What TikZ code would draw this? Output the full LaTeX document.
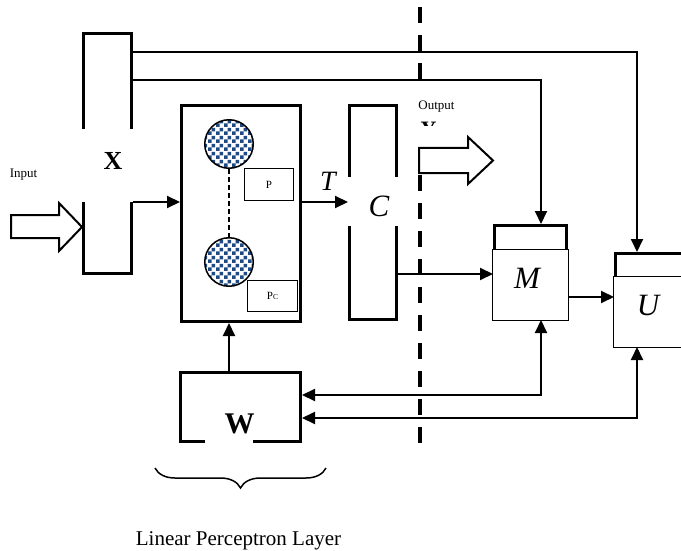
\documentclass[tikz,border=0pt]{standalone}
\usepackage{fontspec}
\setmainfont{Liberation Serif}
\usetikzlibrary{positioning, arrows.meta, calc, decorations.pathreplacing, patterns.meta}
\definecolor{cNavy}{HTML}{1F4A85}
\tikzdeclarepattern{
  name=navycheck,
  type=uncolored,
  bottom left={(0pt,0pt)},
  top right={(8pt,8pt)},
  tile size={(8pt,8pt)},
  code={
    \fill (0pt,0pt) rectangle (4pt,4pt);
    \fill (4pt,4pt) rectangle (8pt,8pt);
  }
}
\tikzset{
  blockbox/.style={
    draw, line width=3pt, inner sep=0pt
  },
  labelpatch/.style={
    fill=white, inner sep=0pt
  },
  thinbox/.style={
    draw, line width=1.2pt, fill=white, inner sep=0pt
  },
  neuron/.style={
    circle, draw, line width=1.5pt, pattern=navycheck, pattern color=cNavy,
    minimum size=48.5pt, inner sep=0pt
  },
  conn/.style={
    line width=2pt, -{Triangle[length=13pt, width=12pt]}
  },
  biconn/.style={
    line width=2pt, {Triangle[length=13pt, width=12pt]}-{Triangle[length=13pt, width=12pt]}
  },
  hollowarrow/.style={
    draw, line width=2pt, fill=white, line join=miter
  },
  divider/.style={
    line width=4pt, dash pattern=on 16pt off 12pt
  },
  smalltext/.style={
    font=\fontsize{13}{15}\selectfont, inner sep=0pt
  },
  boldlabel/.style={
    font=\fontsize{#1}{#1}\selectfont\bfseries, inner sep=0pt
  },
  italabel/.style={
    font=\fontsize{#1}{#1}\selectfont\itshape, inner sep=0pt
  },
  bracestyle/.style={
    line width=1.5pt, decorate, decoration={brace, mirror, amplitude=20pt}
  },
}
\begin{document}
\begin{tikzpicture}[x=1pt, y=-1pt]
\useasboundingbox (0,0) rectangle (681,551);

% ---- Rows and columns ----
\coordinate (rowA) at (0,52);
\coordinate (rowB) at (0,80);
\coordinate (rowT) at (0,202);
\coordinate (rowCM) at (0,274);
\coordinate (rowMU) at (0,297);
\coordinate (rowW1) at (0,395);
\coordinate (rowW2) at (0,418);
\coordinate (colP) at (229,0);
\coordinate (colM) at (541,0);
\coordinate (colU) at (637,0);

% ---- Divider ----
\coordinate (divtop) at (420,7);
\coordinate (divbot) at (420,443);
\draw[divider] (divtop) -- (divbot);

% ---- Blocks ----
\node[blockbox, minimum width=48pt, minimum height=240pt] (xbox) at (107.5,153.5) {};
\node[blockbox, minimum width=119pt, minimum height=216pt] (pbox) at (241,213.5) {};
\node[blockbox, minimum width=47pt, minimum height=214pt] (cbox) at (373,212.5) {};
\node[blockbox, minimum width=72pt, minimum height=93pt] (mbox) at (530.5,272) {};
\node[blockbox, minimum width=67pt, minimum height=92pt] (ubox) at (649,299.5) {};
\node[blockbox, minimum width=120pt, minimum height=69pt] (wbox) at (240.5,407) {};

% label patches
\node[labelpatch, minimum width=58pt, minimum height=73pt] (xpatch) at (109,165.5) {};
\node[labelpatch, minimum width=56pt, minimum height=49pt] (cpatch) at (375,201.5) {};
\node[thinbox, minimum width=76pt, minimum height=71pt] (mpatch) at (530.5,285.25) {};
\node[thinbox, minimum width=72pt, minimum height=71pt] (upatch) at (649.75,312.25) {};
\node[labelpatch, minimum width=48pt, minimum height=14pt] (wpatch) at (229,438) {};

% block labels
\node[boldlabel=26, anchor=base] (xlab) at (113,169) {X};
\node[italabel=31, anchor=base] (clab) at (379,216) {C};
\node[italabel=31, anchor=base] (mlab) at (527,288) {M};
\node[italabel=31, anchor=base] (ulab) at (648,315) {U};
\node[boldlabel=30, anchor=base] (wlab) at (239.5,433) {W};

% ---- Perceptron inside ----
\node[neuron] (n1) at (229,144) {};
\node[neuron] (n2) at (229,262) {};
\draw[line width=2pt, dash pattern=on 5pt off 3pt] (n1) -- (n2);
\node[thinbox, minimum width=49pt, minimum height=32pt,
      font=\fontsize{11}{12}\selectfont] (pstate) at (269,184.5) {P};
\node[thinbox, minimum width=50pt, minimum height=31pt,
      font=\fontsize{11}{12}\selectfont] (pcstate) at (272.5,296)
  {P{\fontsize{7.5}{8}\selectfont C}};

% ---- Output ----
\node[labelpatch, anchor=north west, minimum width=56pt, minimum height=63pt]
  (outpatch) at (414,84) {};
\node[smalltext, anchor=base] (outtext) at (436.5,110) {Output};
\begin{scope}
  \clip (414,84) rectangle (470,126);
  \node[boldlabel=22, anchor=base] (outy) at (428.5,136.5) {Y};
\end{scope}
\draw[hollowarrow] (419,148) -- (468,148) -- (468,137) -- (493,160.5)
  -- (468,184) -- (468,173) -- (419,173) -- cycle;

% ---- Input ----
\node[smalltext, anchor=base] (inputlab) at (23.5,177) {Input};
\draw[hollowarrow] (11,215) -- (59,215) -- (59,203) -- (82,227)
  -- (59,251) -- (59,238) -- (11,238) -- cycle;

% ---- Arrows ----
\draw[conn] (xbox.east |- rowA) -| (ubox.north -| colU);
\draw[conn] (xbox.east |- rowB) -| (mbox.north -| colM);
\draw[conn] (xbox.east |- rowT) -- (pbox.west |- rowT);
\draw[conn] (pbox.east |- rowT) -- (cbox.west |- rowT);
\node[italabel=28, anchor=base] (tlab) at (328,190) {T};
\draw[conn] (cbox.east |- rowCM) -- (mbox.west |- rowCM);
\draw[conn] (mbox.east |- rowMU) -- (ubox.west |- rowMU);
\draw[conn] (wbox.north -| colP) -- (pbox.south -| colP);

% feedback to W
\draw[biconn] (wbox.east |- rowW1) -| (mbox.south -| colM);
\draw[biconn] (wbox.east |- rowW2) -| (ubox.south -| colU);

% ---- Layer brace ----
\coordinate (braceL) at (155,468);
\coordinate (braceR) at (326,468);
\draw[bracestyle] (braceL) -- (braceR);
\node[font=\fontsize{21}{23}\selectfont, inner sep=0pt, anchor=base]
  (layerlab) at (238.5,545) {Linear Perceptron Layer};

\end{tikzpicture}
\end{document}
